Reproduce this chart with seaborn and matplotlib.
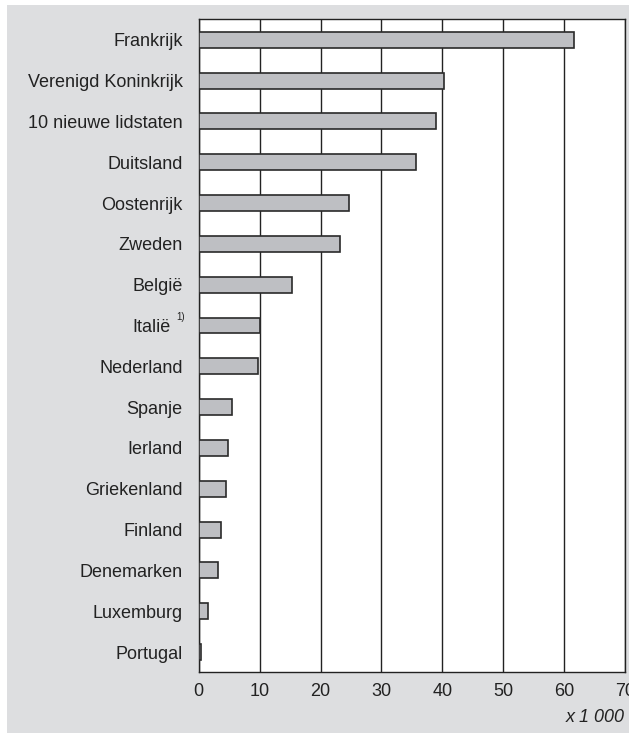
import seaborn as sns
import matplotlib.pyplot as plt
import pandas as pd
from matplotlib.patches import Rectangle

landen = ["Frankrijk", "Verenigd Koninkrijk", "10 nieuwe lidstaten", "Duitsland",
          "Oostenrijk", "Zweden", "België", "Italië", "Nederland", "Spanje",
          "Ierland", "Griekenland", "Finland", "Denemarken", "Luxemburg", "Portugal"]
waarden = [61.6, 40.2, 38.9, 35.6, 24.7, 23.2, 15.3, 10.0, 9.8, 5.4,
           4.8, 4.5, 3.7, 3.2, 1.6, 0.3]
x_ticks = [0, 10, 20, 30, 40, 50, 60, 70]

df = pd.DataFrame({"land": landen, "aantal": waarden})

sns.set_style("white")
plt.rcParams["font.family"] = ["Liberation Sans", "DejaVu Sans"]

fig = plt.figure(figsize=(6.29, 7.33), dpi=100)
fig.patch.set_facecolor("white")
# grey panel behind the chart
fig.patches.append(Rectangle((7 / 629, 0), 1, 1 - 5 / 733, transform=fig.transFigure,
                             facecolor="#dddee0", edgecolor="none", zorder=-10))

ax = fig.add_axes([198.7 / 629, 1 - 671.7 / 733, (625 - 198.7) / 629, (671.7 - 19.3) / 733])
sns.barplot(data=df, x="aantal", y="land", orient="h", color="#bebfc3", saturation=1,
            edgecolor="#2a2a2a", linewidth=1.2, width=0.39, ax=ax, zorder=3)

ax.set_facecolor("white")
ax.set_xlim(0, 70)
ax.set_ylim(15.48, -0.5)
ax.set_xticks(x_ticks)
ax.grid(axis="x", color="#222222", linewidth=1.0, zorder=0)
ax.grid(axis="y", visible=False)
ax.set_axisbelow(True)
for s in ax.spines.values():
    s.set_visible(True)
    s.set_color("#222222")
    s.set_linewidth(1.0)

ax.set_xlabel("")
ax.set_ylabel("")
ax.tick_params(axis="y", length=0, pad=11.5, labelsize=13, labelcolor="#222222")
ax.tick_params(axis="x", length=0, pad=8, labelsize=13, labelcolor="#222222")

# Italië label drawn by hand so the footnote marker fits beside it
labels = [t.get_text() for t in ax.get_yticklabels()]
i_it = labels.index("Italië")
ax.set_yticklabels(["" if l == "Italië" else l for l in labels])
ax.text(-0.065, i_it, "Italië", transform=ax.get_yaxis_transform(), fontsize=13,
        ha="right", va="center_baseline", color="#222222")
ax.text(-0.0427, i_it - 0.2, "1)", transform=ax.get_yaxis_transform(), fontsize=7,
        ha="center", va="center", color="#222222")

fig.text(625 / 629, 1 - 717 / 733, "x 1 000", ha="right", va="center",
         fontsize=13, style="italic", color="#222222")

fig.savefig("out.png", dpi=100)
